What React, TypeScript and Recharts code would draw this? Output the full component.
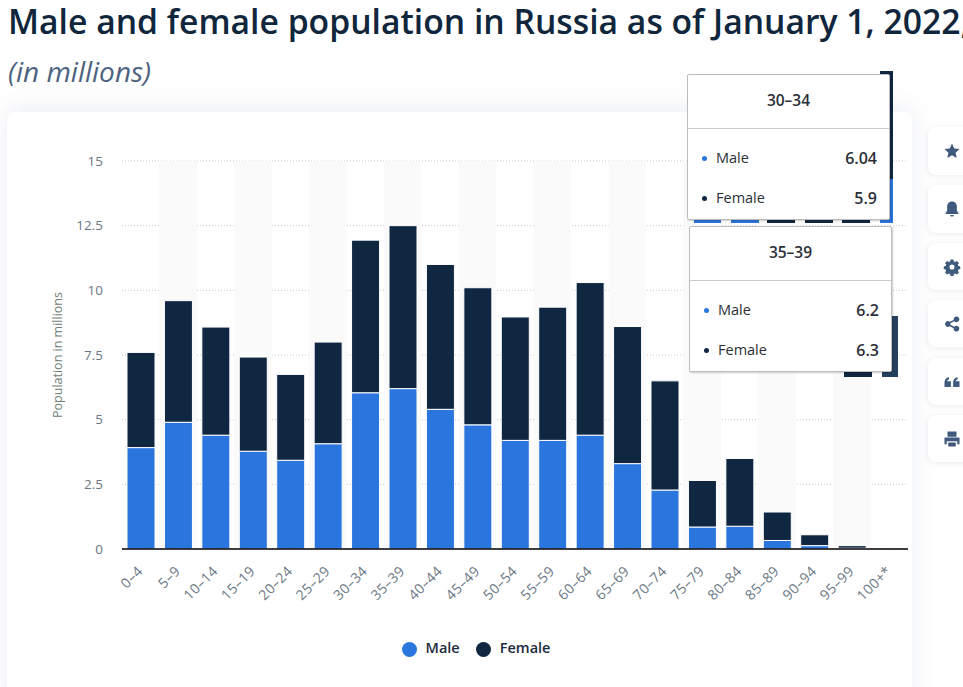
import { Bar, BarChart, CartesianGrid, Legend, ReferenceArea, XAxis, YAxis } from "recharts";

const ageGroups = [
  "0–4", "5–9", "10–14", "15–19", "20–24", "25–29", "30–34", "35–39", "40–44", "45–49", "50–54",
  "55–59", "60–64", "65–69", "70–74", "75–79", "80–84", "85–89", "90–94", "95–99", "100+*",
];
const maleValues = [3.92, 4.9, 4.4, 3.78, 3.43, 4.07, 6.04, 6.2, 5.4, 4.8, 4.2, 4.2, 4.4, 3.3, 2.28, 0.85, 0.88, 0.33, 0.13, 0.03, 0];
const femaleValues = [3.68, 4.7, 4.18, 3.64, 3.32, 3.93, 5.9, 6.3, 5.6, 5.3, 4.77, 5.15, 5.9, 5.3, 4.22, 1.8, 2.62, 1.1, 0.42, 0.1, 0];
const yTicks = [0, 2.5, 5, 7.5, 10, 12.5, 15];

const data = ageGroups.map((age, i) => ({ age, Male: maleValues[i], Female: femaleValues[i] }));

const font = "'Open Sans', sans-serif";
const BLUE = "#2a75de";
const NAVY = "#0f2740";
const ICON = "#3f5a7d";
const TICK = "#6b7784";

const buttons = [
  { top: 127, h: 48, path: "M12 2l3 6.500 7 .9-5.200 4.800 1.400 7L12 17.700 5.800 21.200l1.400-7L2 9.400l7-.9z" },
  { top: 185, h: 48, path: "M12 2c-4 0-6.500 3-6.500 7v5L3 18.500h18L18.500 14V9c0-4-2.500-7-6.500-7zM9.500 20h5a2.500 2 0 0 1-5 0z" },
  { top: 243, h: 47, path: "M10 2h4l.5 2.600 1.800.8 2.200-1.500 2.800 2.800-1.500 2.200.8 1.800 2.400.5v3.600l-2.400.5-.8 1.800 1.500 2.200-2.800 2.800-2.200-1.500-1.800.8-.5 2.500h-4l-.5-2.500-1.800-.8-2.200 1.500-2.800-2.800 1.500-2.200-.8-1.800-2.400-.5v-3.600l2.400-.5.8-1.800-1.500-2.200 2.800-2.800 2.200 1.500 1.800-.8zM12 8.600a3.400 3.400 0 1 0 0 6.800a3.400 3.400 0 0 0 0-6.800z" },
  { top: 300, h: 47, path: "M18 2a3.800 3.800 0 1 1-2.900 6.300L9.800 11a3.800 3.800 0 0 1 0 2l5.300 2.700a3.800 3.800 0 1 1-.9 1.800L9 14.900a3.800 3.800 0 1 1 0-5.800l5.200-2.600A3.800 3.800 0 0 1 18 2z" },
  { top: 358, h: 47, path: "M2 12.500c0-4 2-6.500 6-7V8.500c-1.600.3-2.500 1.200-2.700 2.500H10.500v7.500H2zM13.500 12.500c0-4 2-6.500 6-7V8.500c-1.600.3-2.500 1.200-2.700 2.500H22v7.500h-8.500z" },
  { top: 415, h: 47, path: "M6 2h12v7H6zM2 10h20v9h-3v-4H5v4H2zM7 16.500h10V22H7z" },
];

// scraps of another chart that stick out from behind the pasted tooltips
const scraps = [
  { left: 880, top: 71, width: 13, height: 108, background: NAVY },
  { left: 880, top: 179, width: 13, height: 44, background: BLUE },
  { left: 694, top: 218, width: 27, height: 5, background: BLUE },
  { left: 731, top: 218, width: 28, height: 5, background: BLUE },
  { left: 767, top: 218, width: 28, height: 5, background: NAVY },
  { left: 805, top: 218, width: 28, height: 5, background: NAVY },
  { left: 842, top: 218, width: 28, height: 5, background: NAVY },
  { left: 844, top: 365, width: 28, height: 12, background: NAVY },
  { left: 882, top: 316, width: 16, height: 61, background: "#24405f" },
];

function TooltipBox({ index, left, top }: { index: number; left: number; top: number }) {
  const rows = [
    { name: "Male", value: maleValues[index], color: BLUE },
    { name: "Female", value: femaleValues[index], color: NAVY },
  ];
  return (
    <div
      style={{
        position: "absolute", left, top, width: 201, height: 144, background: "#fff", border: "1px solid #bdbdbd",
        borderRadius: 2, boxShadow: "1px 1px 2px rgba(0,0,0,0.2)", fontFamily: font, color: "#2b2f38", fontSize: 14.500,
      }}
    >
      <div
        style={{
          height: 53, lineHeight: "50px", textAlign: "center", fontWeight: 600, fontSize: 15.500, borderBottom: "1px solid #ccc",
        }}
      >
        {ageGroups[index]}
      </div>
      {rows.map((r, i) => (
        <div key={r.name} style={{ position: "absolute", left: 0, right: 0, top: 63 + i * 40, height: 40, lineHeight: "40px" }}>
          <span style={{ position: "absolute", left: 14, top: 18, width: 5, height: 5, borderRadius: 3, background: r.color }} />
          <span style={{ position: "absolute", left: 28 }}>{r.name}</span>
          <span style={{ position: "absolute", right: 12, fontWeight: 600, fontSize: 16 }}>{r.value}</span>
        </div>
      ))}
    </div>
  );
}

export default function App() {
  return (
    <div style={{ position: "absolute", left: 0, top: 0, width: 963, height: 687, overflow: "hidden", background: "#fff" }}>
      <div
        style={{
          position: "absolute", left: 8, top: -1, whiteSpace: "nowrap", fontFamily: font, fontSize: 33.700, fontWeight: 600,
          color: "#10263c", lineHeight: "44px",
        }}
      >
        Male and female population in Russia as of January 1, 2022,
      </div>
      <div
        style={{
          position: "absolute", left: 8, top: 53, fontFamily: font, fontSize: 28, fontStyle: "italic", color: "#4d6380", lineHeight: "36px",
        }}
      >
        (in millions)
      </div>
      <div
        style={{
          position: "absolute", left: 7, top: 112, width: 905, height: 600, background: "#fff", borderRadius: 8,
          boxShadow: "0 -4px 24px rgba(70,90,130,0.10)",
        }}
      />
      <div style={{ position: "absolute", left: 0, top: 0 }}>
        <BarChart
          width={963}
          height={687}
          data={data}
          barSize={28}
          margin={{ top: 161, right: 55, bottom: 59, left: 72 }}
        >
          {ageGroups.map((age, i) =>
            i % 2 === 1 ? (
              <ReferenceArea key={age} x1={age} x2={age} y1={0} y2={15} fill="#fafafa" fillOpacity={1} stroke="none" />
            ) : null
          )}
          <CartesianGrid vertical={false} stroke="#c8c8c8" strokeDasharray="1 2" />
          <XAxis
            dataKey="age"
            interval={0}
            axisLine={{ stroke: "#000", strokeWidth: 1.500 }}
            tickLine={false}
            angle={-45}
            textAnchor="end"
            height={60}
            tickMargin={10}
            tick={{ fontSize: 14, fill: TICK, fontFamily: font, dx: -4, letterSpacing: 0.4 }}
          />
          <YAxis
            width={50}
            domain={[0, 15]}
            ticks={yTicks}
            axisLine={false}
            tickLine={false}
            tickMargin={13}
            tick={{ fontSize: 13.500, fill: TICK, fontFamily: font }}
            label={{
              value: "Population in millions", angle: -90, position: "insideLeft", offset: -14,
              style: { fontSize: 12.500, fill: "#6f8075", fontFamily: font, textAnchor: "middle" },
            }}
          />
          <Legend
            verticalAlign="bottom"
            iconType="circle"
            iconSize={15}
            itemSorter={(item) => (item.value === "Male" ? 0 : 1)}
            wrapperStyle={{ top: 638, left: 66, fontFamily: font, fontSize: 14.500, fontWeight: 600 }}
            formatter={(value) => <span style={{ color: "#1c2b3d", marginLeft: 5, marginRight: 6 }}>{value}</span>}
          />
          <Bar dataKey="Male" stackId="a" fill={BLUE} stroke="#fff" isAnimationActive={false} />
          <Bar dataKey="Female" stackId="a" fill={NAVY} stroke="#fff" isAnimationActive={false} />
        </BarChart>
      </div>
      {buttons.map((b) => (
        <div
          key={b.top}
          style={{
            position: "absolute", left: 928, top: b.top, width: 60, height: b.h, background: "#fff", borderRadius: 8,
            boxShadow: "0 1px 6px rgba(70,90,130,0.12)",
          }}
        >
          <svg width={18} height={18} viewBox="0 0 24 24" style={{ position: "absolute", left: 15, top: (b.h - 18) / 2 }}>
            <path d={b.path} fill={ICON} fillRule="evenodd" />
          </svg>
        </div>
      ))}
      {scraps.map((s) => (
        <div key={`${s.left}-${s.top}`} style={{ position: "absolute", ...s }} />
      ))}
      <TooltipBox index={6} left={687} top={74} />
      <TooltipBox index={7} left={689} top={226} />
    </div>
  );
}
